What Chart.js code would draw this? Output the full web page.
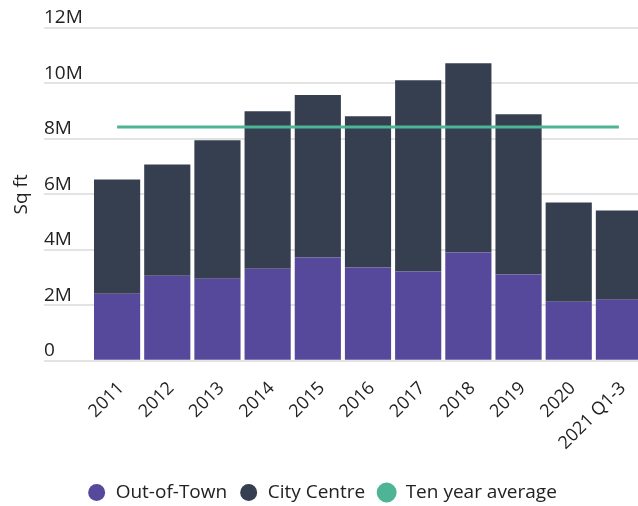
<!DOCTYPE html>
<html>
<head>
<meta charset="utf-8">
<script src="https://cdn.jsdelivr.net/npm/chart.js@4"></script>
<style>
  html, body { margin: 0; padding: 0; background: #fff; overflow: hidden; }
  #wrap { position: relative; width: 644px; height: 506px; }
</style>
</head>
<body>
<div id="wrap"><canvas id="myChart"></canvas></div>
<script>
// chart data (million sq ft)
const years = ['2011', '2012', '2013', '2014', '2015', '2016', '2017', '2018', '2019', '2020', '2021 Q1-3'];
const outOfTown = [2.42, 3.07, 2.96, 3.32, 3.72, 3.36, 3.22, 3.90, 3.11, 2.13, 2.20];
const cityCentre = [4.12, 4.01, 4.99, 5.68, 5.86, 5.46, 6.90, 6.83, 5.78, 3.58, 3.22];
const tenYearAvg = [8.43, 8.43, 8.43, 8.43, 8.43, 8.43, 8.43, 8.43, 8.43, 8.43, 8.43];
const yTicks = [0, 2, 4, 6, 8, 10, 12];

const font = 'Open Sans';
const textColor = '#222';

const makeChart = () => {
    const ctx = document.getElementById('myChart');

    new Chart(ctx, {
        data: {
            labels: years,
            datasets: [
                {
                    type: 'line',
                    label: 'Ten year average',
                    data: tenYearAvg,
                    borderColor: '#4db595',
                    backgroundColor: '#4db595',
                    borderWidth: 3,
                    pointRadius: 0,
                    pointStyle: 'circle',
                    order: 0,
                },
                {
                    type: 'bar',
                    label: 'Out-of-Town',
                    data: outOfTown,
                    backgroundColor: '#56499b',
                    barPercentage: 0.92,
                    categoryPercentage: 1,
                    order: 1,
                },
                {
                    type: 'bar',
                    label: 'City Centre',
                    data: cityCentre,
                    backgroundColor: '#353f50',
                    barPercentage: 0.92,
                    categoryPercentage: 1,
                    order: 1,
                },
            ]
        },
        options: {
            responsive: true,
            maintainAspectRatio: false,
            animation: false,
            layout: { padding: { top: 28, right: 0, left: 0, bottom: -6 } },
            plugins: {
                legend: {
                    position: 'bottom',
                    labels: {
                        usePointStyle: true,
                        boxWidth: 19,
                        boxHeight: 12,
                        padding: 12,
                        color: textColor,
                        font: { family: font, size: 19 },
                        sort: (a, b) => {
                            const rank = { 'Out-of-Town': 0, 'City Centre': 1, 'Ten year average': 2 };
                            return rank[a.text] - rank[b.text];
                        }
                    }
                },
                tooltip: { enabled: false }
            },
            scales: {
                x: {
                    stacked: true,
                    afterFit: (scale) => { scale.height += 8; },
                    grid: { display: false },
                    border: { display: false },
                    ticks: {
                        color: textColor,
                        font: { family: font, size: 18 },
                        maxRotation: 45,
                        minRotation: 45,
                        padding: 9,
                        labelOffset: 4,
                    }
                },
                y: {
                    stacked: true,
                    min: 0,
                    max: 12,
                    weight: 0,
                    afterBuildTicks: (scale) => {
                        scale.ticks = yTicks.map(v => ({ value: v }));
                    },
                    afterFit: (scale) => { scale.width = 48; },
                    grid: {
                        color: '#e3e3e3',
                        lineWidth: 2,
                        tickLength: 48,
                        tickColor: '#e3e3e3',
                    },
                    border: { display: false },
                    ticks: {
                        crossAlign: 'far',
                        labelOffset: -10,
                        color: textColor,
                        font: { family: font, size: 19 },
                        callback: (v) => v === 0 ? '0' : v + 'M',
                    }
                },
                yTitle: {
                    type: 'linear',
                    position: 'left',
                    weight: 1,
                    afterFit: (scale) => { scale.width = 44; },
                    grid: { display: false, drawTicks: false },
                    border: { display: false },
                    ticks: { display: false },
                    title: {
                        display: true,
                        text: 'Sq ft',
                        color: textColor,
                        font: { family: font, size: 19 },
                        padding: { top: 10 },
                    }
                }
            }
        }
    });
}

const init = () => {
    makeChart();
}

if (window.addEventListener) {
    window.addEventListener("load", init, false);
}
</script>
</body>
</html>
